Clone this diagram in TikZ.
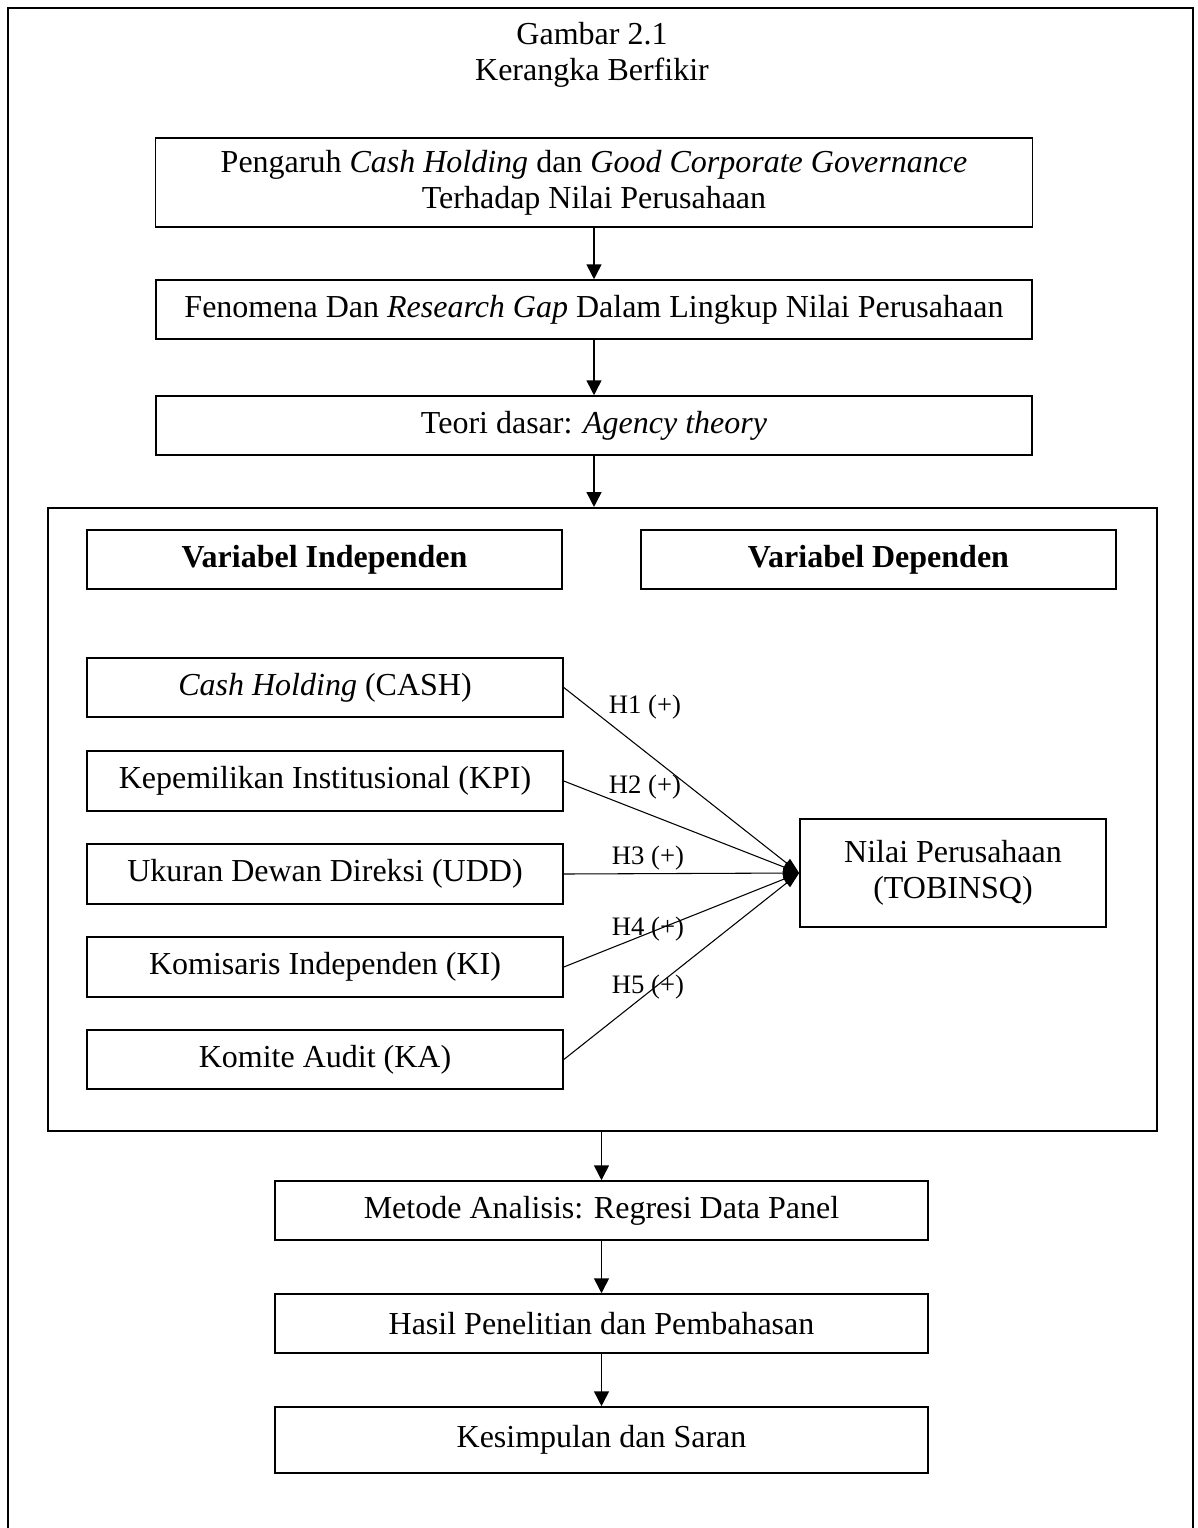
\documentclass[tikz,border=0pt]{standalone}
\usepackage{fontspec}
\setmainfont{Liberation Serif}
\usetikzlibrary{arrows.meta}

\begin{document}
\begin{tikzpicture}[x=0.375pt,y=-0.375pt,
    box/.style={draw,line width=0.6pt,inner sep=0pt,align=center,
        font=\fontsize{12pt}{13.5pt}\selectfont},
    flow/.style={line width=0.6pt,-{Triangle[length=5.6pt,width=5.6pt]}},
    hyp/.style={line width=0.4pt,-{Triangle[length=6pt,width=4pt]}},
    hlabel/.style={font=\fontsize{10pt}{11pt}\selectfont,inner sep=0pt}]

    \useasboundingbox (0,0) rectangle (1197,1528);
    \draw[line width=1.1pt] (8,1540) -- (8,8) -- (1193,8) -- (1193,1540);

    \node[font=\fontsize{12pt}{13.5pt}\selectfont,align=center] at (592,55) (title)
        {Gambar 2.1\\Kerangka Berfikir};

    \node[box,minimum width=328.9pt,minimum height=33.4pt] at (594,182.5) (judul)
        {Pengaruh \textit{Cash Holding} dan \textit{Good Corporate Governance}\\Terhadap Nilai Perusahaan};
    \node[box,minimum width=328.5pt,minimum height=22.1pt] at (594,309.5) (fenomena)
        {Fenomena Dan \textit{Research Gap} Dalam Lingkup Nilai Perusahaan};
    \node[box,minimum width=328.5pt,minimum height=22.1pt] at (594,425.5) (teori)
        {Teori dasar: \textit{Agency theory}};

    \node[draw,line width=0.8pt,minimum width=415.9pt,minimum height=233.6pt] at (602.5,819.5) (frame) {};

    \node[box,minimum width=178.1pt,minimum height=22.1pt] at (324.5,559.5) (indep)
        {\textbf{Variabel Independen}};
    \node[box,minimum width=178.1pt,minimum height=22.1pt] at (878.5,559.5) (dep)
        {\textbf{Variabel Dependen}};

    \node[box,minimum width=178.5pt,minimum height=22.1pt] at (325,687.5) (cash)
        {\textit{Cash Holding} (CASH)};
    \node[box,minimum width=178.5pt,minimum height=22.5pt] at (325,781) (kpi)
        {Kepemilikan Institusional (KPI)};
    \node[box,minimum width=178.5pt,minimum height=22.5pt] at (325,874) (udd)
        {Ukuran Dewan Direksi (UDD)};
    \node[box,minimum width=178.5pt,minimum height=22.5pt] at (325,967) (ki)
        {Komisaris Independen (KI)};
    \node[box,minimum width=178.5pt,minimum height=22.1pt] at (325,1059.5) (ka)
        {Komite Audit (KA)};

    \node[box,minimum width=114.75pt,minimum height=40.5pt] at (953,873) (nilai)
        {Nilai Perusahaan\\(TOBINSQ)};

    \node[box,minimum width=244.9pt,minimum height=22.1pt] at (601.5,1210.5) (metode)
        {Metode Analisis: Regresi Data Panel};
    \node[box,minimum width=244.9pt,minimum height=22.1pt] at (601.5,1323.5) (hasil)
        {Hasil Penelitian dan Pembahasan};
    \node[box,minimum width=244.9pt,minimum height=24.75pt] at (601.5,1440) (saran)
        {Kesimpulan dan Saran};

    \draw[flow] (judul) -- (fenomena);
    \draw[flow] (fenomena) -- (teori);
    \draw[flow] (teori.south) -- (teori.south |- frame.north);
    \draw[flow] (frame.south -| metode.north) -- (metode.north);
    \draw[flow] (metode) -- (hasil);
    \draw[flow] (hasil) -- (saran);

    \draw[hyp] (cash.east) -- (nilai.west);
    \draw[hyp] (kpi.east) -- (nilai.west);
    \draw[hyp] (udd.east) -- (nilai.west);
    \draw[hyp] (ki.east) -- (nilai.west);
    \draw[hyp] (ka.east) -- (nilai.west);

    \node[hlabel] at (645,707) (h1) {H1 (+)};
    \node[hlabel] at (645,787) (h2) {H2 (+)};
    \node[hlabel] at (648,858) (h3) {H3 (+)};
    \node[hlabel] at (648,929) (h4) {H4 (+)};
    \node[hlabel] at (648,987) (h5) {H5 (+)};
\end{tikzpicture}
\end{document}
